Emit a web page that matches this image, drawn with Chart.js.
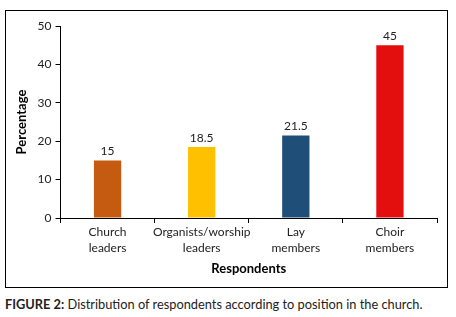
<!DOCTYPE html>
<html>
<head>
<meta charset="utf-8">
<script src="https://cdn.jsdelivr.net/npm/chart.js@4"></script>
<style>
  html, body { margin: 0; padding: 0; background: #fff; }
  body { width: 456px; height: 317px; position: relative; overflow: hidden; font-family: Lato, "Open Sans", sans-serif; }
  #box { position: absolute; left: 5px; top: 10px; width: 441px; height: 276px; border: 1px solid #000; }
  #chart { position: absolute; left: 0; top: 0; }
  #caption { position: absolute; left: 5px; top: 296px; font-size: 12.8px; color: #222; white-space: nowrap; }
</style>
</head>
<body>
<div id="box"><canvas id="chart" width="441" height="276"></canvas></div>
<div id="caption"><b>FIGURE 2:</b> Distribution of respondents according to position in the church.</div>
<script>
  const categories = [['Church', 'leaders'], ['Organists/worship', 'leaders'], ['Lay', 'members'], ['Choir', 'members']];
  const percentages = [15, 18.5, 21.5, 45];
  const barColors = ['#C55A11', '#FFC000', '#1F4E79', '#E30E0E'];
  const yTicks = [0, 10, 20, 30, 40, 50];

  // 막대 위 값 표시
  const valueLabels = {
    id: 'valueLabels',
    afterDatasetsDraw(chart) {
      const ctx = chart.ctx;
      const meta = chart.getDatasetMeta(0);
      ctx.save();
      ctx.font = '12px Lato, "Open Sans", sans-serif';
      ctx.fillStyle = '#222';
      ctx.textAlign = 'center';
      ctx.textBaseline = 'bottom';
      meta.data.forEach((bar, i) => {
        ctx.fillText(String(percentages[i]), bar.x, bar.y - 3);
      });
      ctx.restore();
    }
  };

  const ctx = document.getElementById('chart').getContext('2d');
  new Chart(ctx, {
    type: 'bar',
    data: {
      labels: categories,
      datasets: [{
        data: percentages,
        backgroundColor: barColors,
        categoryPercentage: 1,
        barPercentage: 0.29
      }]
    },
    options: {
      responsive: false,
      animation: false,
      layout: { padding: { top: 15, right: 10, left: 4, bottom: 6 } },
      plugins: { legend: { display: false }, tooltip: { enabled: false } },
      scales: {
        x: {
          grid: { offset: true, drawOnChartArea: false, tickLength: 5, color: '#000' },
          border: { color: '#000', width: 1 },
          ticks: { color: '#222', font: { size: 12, family: 'Lato', lineHeight: 1.35 }, maxRotation: 0, autoSkip: false, padding: 1 },
          title: { display: true, text: 'Respondents', color: '#000', font: { size: 13, weight: 'bold', family: 'Lato' }, padding: { top: 4 } }
        },
        y: {
          min: 0,
          max: 50,
          afterBuildTicks(axis) { axis.ticks = yTicks.map(v => ({ value: v })); },
          grid: { drawOnChartArea: false, tickLength: 5, color: '#000' },
          border: { color: '#000', width: 1 },
          ticks: { color: '#222', font: { size: 12, family: 'Lato' }, padding: 4 },
          title: { display: true, text: 'Percentage', color: '#000', font: { size: 13, weight: 'bold', family: 'Lato' }, padding: { bottom: 4 } }
        }
      }
    },
    plugins: [valueLabels]
  });
</script>
</body>
</html>
